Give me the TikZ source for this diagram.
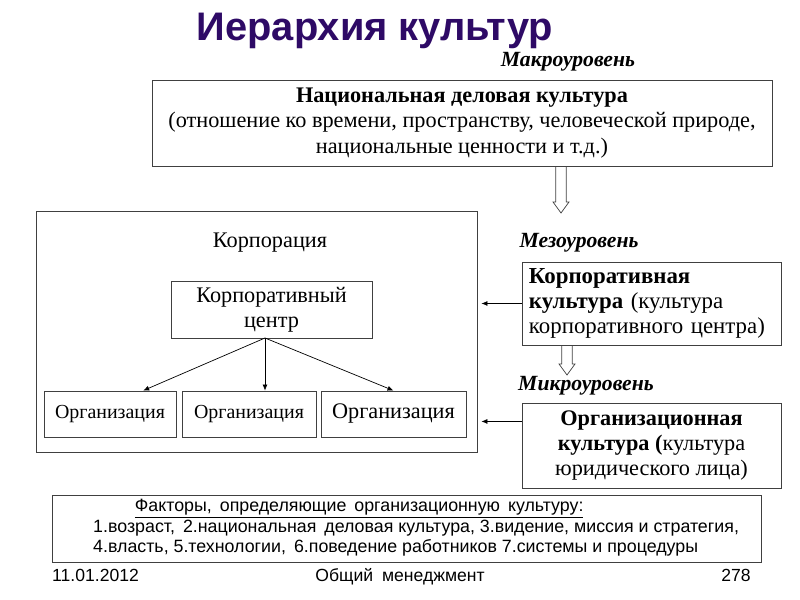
\documentclass[tikz,border=0pt]{standalone}
\usepackage{fontspec}
\setmainfont{Liberation Serif}
\newfontfamily\arialfont{Liberation Sans}
\usetikzlibrary{positioning, arrows.meta, calc}

\definecolor{titlepurple}{RGB}{46,10,102}

\begin{document}
\begin{tikzpicture}[
    x=0.03cm, y=-0.03cm,
    box/.style={rectangle, draw=black!75, line width=0.7pt, inner sep=0pt, align=center, font=\fontsize{19}{21.5}\selectfont},
    level/.style={font=\fontsize{18.5}{20}\selectfont\bfseries\itshape},
    plain/.style={font=\fontsize{19}{21.5}\selectfont},
    sans/.style={font=\arialfont\fontsize{#1}{#1}\selectfont},
    arrow/.style={-{Latex[length=1.8mm, width=1.5mm]}, line width=0.6pt},
    hollow/.style={draw=black!75, line width=0.6pt, to path={let \p1=(\tikztostart), \p2=(\tikztotarget) in
        (\x1-0.16cm,\y1) -- (\x1-0.16cm,\y2+0.33cm) -- (\x1-0.24cm,\y2+0.33cm) -- (\x1,\y2)
        -- (\x1+0.24cm,\y2+0.33cm) -- (\x1+0.16cm,\y2+0.33cm) -- (\x1+0.16cm,\y1)}},
]
\useasboundingbox (0,0) rectangle (800,600);

% ========== TITLE ==========
\node[font=\arialfont\fontsize{34}{34}\selectfont\bfseries, text=titlepurple] (title) at (375,31) {Иерархия культур};

% ========== MACRO LEVEL ==========
\node[level] (macro) at (568,62) {Макроуровень};
\node[box, minimum width=18.6cm, minimum height=2.58cm] (nat) at (462,123)
    {\textbf{Национальная деловая культура}\\(отношение ко времени, пространству, человеческой природе,\\национальные ценности и т.д.)};

% ========== CORPORATION ==========
\node[box, minimum width=13.23cm, minimum height=7.23cm] (corp) at (256.5,331.5) {};
\node[plain] (corplabel) at (270,243) {Корпорация};
\node[box, minimum width=6.03cm, minimum height=1.71cm] (centre) at (271.5,309.5) {Корпоративный\\центр};

\node[box, minimum width=3.96cm, minimum height=1.38cm, font=\fontsize{17}{19}\selectfont] (org1) at (110,414) {Организация};
\node[box, minimum width=4.02cm, minimum height=1.38cm, font=\fontsize{17}{19}\selectfont] (org2) at (249,414) {Организация};
\node[box, minimum width=4.35cm, minimum height=1.38cm] (org3) at (393.5,414) {Организация};

% ========== MESO / MICRO LEVEL ==========
\node[level] (meso) at (579,243) {Мезоуровень};
\node[box, minimum width=7.77cm, minimum height=2.49cm, text width=7.35cm, align=left, font=\fontsize{19.5}{21.5}\selectfont] (cc) at (651.5,303.5)
    {\textbf{Корпоративная}\\\textbf{культура} (культура\\корпоративного центра)};

\node[level] (micro) at (586,386) {Микроуровень};
\node[box, minimum width=7.77cm, minimum height=2.55cm] (oc) at (651.5,445.5)
    {\textbf{Организационная}\\\textbf{культура (}культура\\юридического лица)};

% ========== FACTORS ==========
\node[box, minimum width=21.27cm, minimum height=2.01cm] (factors) at (406.5,528.5) {};
\node[font=\arialfont\fontsize{15.2}{17.5}\selectfont, align=left, anchor=west, inner sep=0pt] (factortext) at (93,528)
    {\hspace*{1.25cm}\underline{Факторы,\hspace{0.45em}определяющие\hspace{0.45em}организационную\hspace{0.45em}культуру:}\\
     1.возраст,\hspace{0.45em}2.национальная\hspace{0.45em}деловая культура, 3.видение, миссия и стратегия,\\
     4.власть, 5.технологии,\hspace{0.45em}6.поведение работников 7.системы и процедуры};

% ========== FOOTER ==========
\node[sans=15, anchor=base west, inner sep=0pt] (date) at (52,582) {11.01.2012};
\node[sans=15, anchor=base, inner sep=0pt] (course) at (400,582) {Общий\hspace{0.5em}менеджмент};
\node[sans=15, anchor=base east, inner sep=0pt] (page) at (751,582) {278};

% ========== ARROWS ==========
\coordinate (hub) at (265,338);
\draw[arrow] (hub) -- ($(org1.north west)!0.75!(org1.north east)$);
\draw[arrow] (hub) -- (hub |- org2.north);
\draw[arrow] (hub) -- (org3.north);

\draw[arrow, shorten >=0.12cm] (cc.west) -- (cc.west -| corp.east);
\coordinate (ocin) at ($(oc.north west)!0.22!(oc.south west)$);
\draw[arrow, shorten >=0.12cm] (ocin) -- (ocin -| corp.east);

\coordinate (mesotip) at (561,213);
\draw[hollow] (nat.south -| mesotip) to (mesotip);
\coordinate (microtip) at (567,375);
\draw[hollow] (cc.south -| microtip) to (microtip);

\end{tikzpicture}
\end{document}
